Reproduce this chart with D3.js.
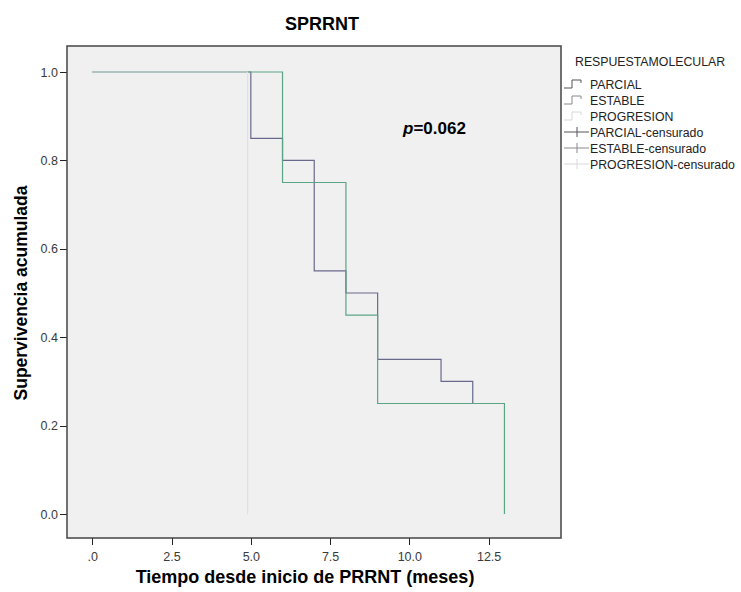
<div id="chart-container">
    <style>
      body { margin: 0; background: #fff; }
      text { font-family: "Liberation Sans", Arial, sans-serif; }
      .axis path, .axis line { fill: none; stroke: #222; shape-rendering: crispEdges; }
      .axis text { fill: #3a3a3a; font-size: 12.5px; }
    </style>

    <script src="https://d3js.org/d3.v7.min.js"></script>
    <script>
      // step points (time in months, cumulative survival)
      const parcialTimes = [0, 5, 6, 7, 8, 9, 11, 12];
      const parcialSurv = [1.0, 0.85, 0.80, 0.55, 0.50, 0.35, 0.30, 0.25];
      const estableTimes = [0, 6, 8, 9, 13];
      const estableSurv = [1.0, 0.75, 0.45, 0.25, 0.0];
      const progresionTimes = [0, 4.9];
      const progresionSurv = [1.0, 0.0];

      const xTicks = [0, 2.5, 5, 7.5, 10, 12.5];
      const xTickLabels = [".0", "2.5", "5.0", "7.5", "10.0", "12.5"];
      const yTicks = [0, 0.2, 0.4, 0.6, 0.8, 1.0];

      const legendLabels = ["PARCIAL", "ESTABLE", "PROGRESION", "PARCIAL-censurado", "ESTABLE-censurado", "PROGRESION-censurado"];

      function renderChart() {
        const width = 741, height = 592;
        const frame = { left: 67, top: 46, right: 561, bottom: 538 };

        const svg = d3.select("#chart-container").append("svg")
          .attr("width", width)
          .attr("height", height);

        const x = d3.scaleLinear().domain([0, 12.5]).range([92.3, 488.6]);
        const y = d3.scaleLinear().domain([0, 1]).range([514, 72]);

        // plot background
        svg.append("rect")
          .attr("x", frame.left).attr("y", frame.top)
          .attr("width", frame.right - frame.left)
          .attr("height", frame.bottom - frame.top)
          .attr("fill", "#f0f0f0");

        svg.append("g")
          .attr("class", "x axis")
          .attr("transform", `translate(0,${frame.bottom})`)
          .call(d3.axisBottom(x).tickValues(xTicks).tickSize(7).tickSizeOuter(0)
            .tickFormat((d, i) => xTickLabels[i]))
          .call(g => g.select(".domain").remove())
          .selectAll("text").attr("dy", "1.05em");

        svg.append("g")
          .attr("class", "y axis")
          .attr("transform", `translate(${frame.left},0)`)
          .call(d3.axisLeft(y).tickValues(yTicks).tickSize(7).tickSizeOuter(0)
            .tickFormat(d3.format(".1f")))
          .call(g => g.select(".domain").remove())
          .selectAll("text").attr("x", -9);

        // survival step curves
        const line = d3.line()
          .x(d => x(d[0]))
          .y(d => y(d[1]))
          .curve(d3.curveStepAfter);

        const curves = [
          { t: parcialTimes, s: parcialSurv, color: "#68698c" },
          { t: estableTimes, s: estableSurv, color: "#5aa586" },
          { t: progresionTimes, s: progresionSurv, color: "#e0e0e0" }
        ];

        curves.forEach(c => {
          const pts = c.t.map((t, i) => [t, c.s[i]]);
          svg.append("path")
            .datum(pts)
            .attr("fill", "none")
            .attr("stroke", c.color)
            .attr("stroke-width", 1.2)
            .attr("d", line);
        });

        // frame
        svg.append("rect")
          .attr("x", frame.left).attr("y", frame.top)
          .attr("width", frame.right - frame.left)
          .attr("height", frame.bottom - frame.top)
          .attr("fill", "none")
          .attr("stroke", "#444")
          .attr("stroke-width", 1.5);

        // titles
        svg.append("text")
          .attr("x", 322).attr("y", 30)
          .attr("text-anchor", "middle")
          .attr("font-size", "18px").attr("font-weight", "bold")
          .text("SPRRNT");

        svg.append("text")
          .attr("x", 305).attr("y", 583)
          .attr("text-anchor", "middle")
          .attr("font-size", "18px").attr("font-weight", "bold")
          .text("Tiempo desde inicio de PRRNT (meses)");

        svg.append("text")
          .attr("transform", "translate(27,293) rotate(-90)")
          .attr("text-anchor", "middle")
          .attr("font-size", "17.5px").attr("font-weight", "bold")
          .text("Supervivencia acumulada");

        const p = svg.append("text")
          .attr("x", 403).attr("y", 134)
          .attr("font-size", "17px").attr("font-weight", "bold");
        p.append("tspan").attr("font-style", "italic").text("p");
        p.append("tspan").text("=0.062");

        // legend
        const legend = svg.append("g").attr("transform", "translate(575,0)");
        legend.append("text")
          .attr("x", 0).attr("y", 66)
          .attr("font-size", "12.3px").attr("fill", "#222")
          .text("RESPUESTAMOLECULAR");

        const symColors = ["#555", "#8a8a8a", "#d8d8d8", "#555", "#8a8a8a", "#d8d8d8"];
        legendLabels.forEach((lab, i) => {
          const yy = 84 + i * 16;
          const g = legend.append("g").attr("transform", `translate(0,${yy})`);
          if (i < 3) {
            g.append("path")
              .attr("d", "M-11,4 H-3 V-4 H6 V-1")
              .attr("fill", "none").attr("stroke", symColors[i]).attr("stroke-width", 1);
          } else {
            g.append("path")
              .attr("d", "M-11,0 H14 M2,-5 V5")
              .attr("fill", "none").attr("stroke", symColors[i]).attr("stroke-width", 1);
          }
          g.append("text")
            .attr("x", 15).attr("y", 4.5)
            .attr("font-size", "12.3px").attr("fill", "#222")
            .text(lab);
        });
      }

      renderChart()
  </script>
</div>
